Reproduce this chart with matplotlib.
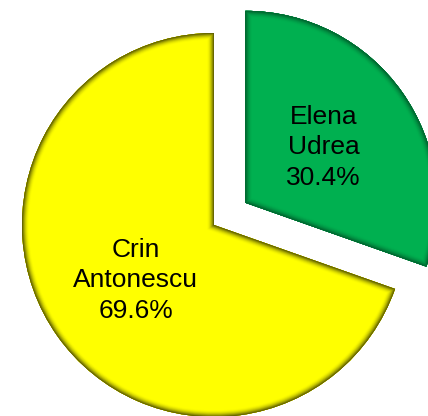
import matplotlib
matplotlib.use("Agg")
import matplotlib.pyplot as plt
import matplotlib.patches as mpatches
import numpy as np

# Data
candidates = ["Elena\nUdrea", "Crin\nAntonescu"]
shares = [30.4, 69.6]
colors = ["#00B050", "#FFFF00"]
dark_colors = ["#005a2a", "#4a4a00"]
explode = [0.2, 0.0]

fig = plt.figure(figsize=(4.28, 4.16), dpi=100)
ax = fig.add_axes([0, 0, 1, 1])
ax.axis("off")

def fmt_label(names):
    it = iter(names)
    def f(pct):
        return f"{next(it)}\n{pct:.1f}%"
    return f

wedges, texts, autotexts = ax.pie(
    shares, colors=colors, explode=explode, startangle=90, counterclock=False,
    radius=1.0, autopct=fmt_label(candidates), pctdistance=0.5,
    wedgeprops=dict(linewidth=0),
    textprops=dict(fontsize=19, family=["Liberation Sans", "DejaVu Sans"], color="black"),
)

# bevel-like gradient edges
def blend(c1, c2, t):
    a = np.array(matplotlib.colors.to_rgb(c1))
    b = np.array(matplotlib.colors.to_rgb(c2))
    return tuple(a * (1 - t) + b * t)

n = 8
for w, base, dark in zip(wedges, colors, dark_colors):
    for i in range(n):
        t = i / (n - 1)
        lw = 10 * (1 - t) + 1.0
        col = blend(base, dark, t ** 1.8 * 0.9)
        e = mpatches.Wedge(w.center, w.r, w.theta1, w.theta2, fill=False,
                           edgecolor=col, linewidth=lw, zorder=w.get_zorder() + 0.1)
        ax.add_patch(e)
        e.set_clip_path(w)

for t in autotexts:
    t.set_zorder(10)
    t.set_linespacing(1.35)

ax.set_xlim(-214 / 192, 214 / 192)
ax.set_ylim(-(416 - 225) / 192, 225 / 192)
ax.set_aspect("equal")

fig.savefig("out.png", dpi=100)
